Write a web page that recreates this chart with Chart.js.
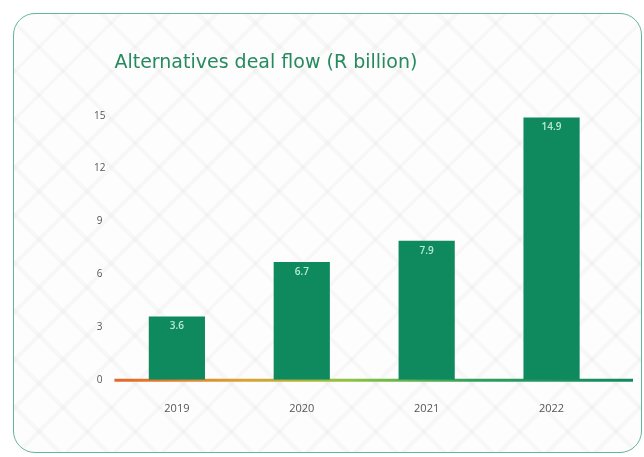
<!DOCTYPE html>
<html>
<head>
<meta charset="utf-8">
<script src="https://cdn.jsdelivr.net/npm/chart.js@4.4.1/dist/chart.umd.min.js"></script>
<style>
  html, body { margin: 0; padding: 0; background: #ffffff; }
  body { width: 644px; height: 457px; position: relative; overflow: hidden; }
  .card {
    position: absolute; left: 13px; top: 13px; width: 629px; height: 440px;
    border: 1.5px solid #62b79b; border-radius: 22px; box-sizing: border-box;
    background-color: #fdfdfd;
    background-image:
      repeating-linear-gradient(45deg, rgba(0,0,0,0) 0 30px, rgba(0,0,0,0.022) 30px 34px),
      repeating-linear-gradient(-45deg, rgba(0,0,0,0) 0 30px, rgba(0,0,0,0.022) 30px 34px);
  }
  #chart { position: absolute; left: 0; top: 0; }
</style>
</head>
<body>
<div class="card"></div>
<canvas id="chart" width="644" height="457"></canvas>
<script>
// Alternatives deal flow, R billion per year
const years = ['2019', '2020', '2021', '2022'];
const dealFlow = [3.6, 6.7, 7.9, 14.9];
const yTicks = [0, 3, 6, 9, 12, 15];

const GREEN = '#0f8a5f';

// Orange-to-green baseline along the value axis zero line
const baselinePlugin = {
  id: 'gradientBaseline',
  beforeDatasetsDraw(chart) {
    const { ctx, chartArea, scales } = chart;
    const y = scales.y.getPixelForValue(0);
    const x0 = chartArea.left;
    const x1 = chartArea.right + 19;
    const g = ctx.createLinearGradient(x0, 0, x1, 0);
    g.addColorStop(0, '#e4662b');
    g.addColorStop(0.25, '#dba232');
    g.addColorStop(0.45, '#8fc441');
    g.addColorStop(0.7, '#2f9f5c');
    g.addColorStop(1, GREEN);
    ctx.save();
    ctx.strokeStyle = g;
    ctx.lineWidth = 3;
    ctx.beginPath();
    ctx.moveTo(x0, y + 0.5);
    ctx.lineTo(x1, y + 0.5);
    ctx.stroke();
    ctx.restore();
  }
};

// Value printed just inside the top of each bar
const valueLabels = {
  id: 'valueLabels',
  afterDatasetsDraw(chart) {
    const { ctx } = chart;
    const meta = chart.getDatasetMeta(0);
    ctx.save();
    ctx.font = '600 10px "Open Sans", sans-serif';
    ctx.fillStyle = '#b9ead3';
    ctx.textAlign = 'center';
    ctx.textBaseline = 'top';
    meta.data.forEach((bar, i) => {
      ctx.fillText(String(dealFlow[i]), bar.x, bar.y + 5);
    });
    ctx.restore();
  }
};

new Chart(document.getElementById('chart'), {
  type: 'bar',
  data: {
    labels: years,
    datasets: [{
      data: dealFlow,
      backgroundColor: GREEN,
      borderWidth: 0,
      categoryPercentage: 1,
      barPercentage: 0.45
    }]
  },
  options: {
    responsive: false,
    animation: false,
    devicePixelRatio: 1,
    layout: { padding: { left: 85, right: 30, top: 52, bottom: 20 } },
    plugins: {
      legend: { display: false },
      tooltip: { enabled: false },
      title: {
        display: true,
        text: 'Alternatives deal flow (R billion)',
        align: 'start',
        fullSize: false,
        color: '#27895f',
        font: { family: '"DejaVu Sans", sans-serif', size: 19, weight: 'normal' },
        padding: { top: 0, bottom: 41 }
      }
    },
    scales: {
      x: {
        grid: { display: false, drawTicks: false },
        border: { display: false },
        ticks: {
          color: '#555',
          font: { family: '"Open Sans", sans-serif', size: 11 },
          padding: 22
        }
      },
      y: {
        min: 0,
        max: 15,
        afterBuildTicks(scale) { scale.ticks = yTicks.map(v => ({ value: v })); },
        grid: { display: false, drawTicks: false },
        border: { display: false },
        ticks: {
          color: '#555',
          crossAlign: 'center',
          font: { family: '"Open Sans", sans-serif', size: 10 },
          padding: 9
        }
      }
    }
  },
  plugins: [baselinePlugin, valueLabels]
});
</script>
</body>
</html>
